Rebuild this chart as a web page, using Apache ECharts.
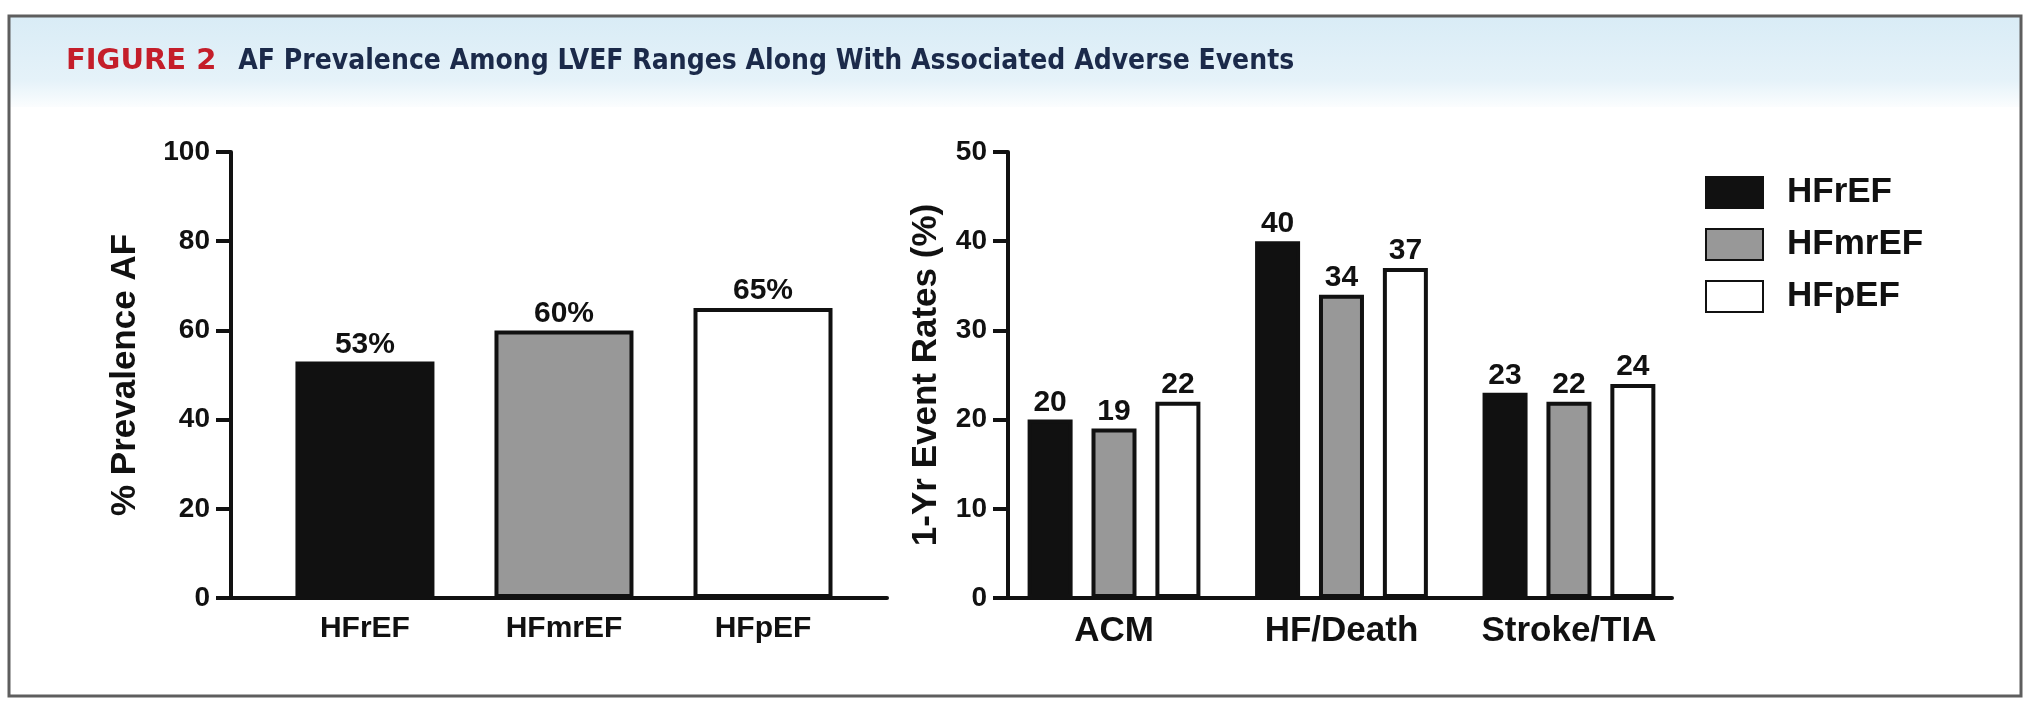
<!DOCTYPE html>
<html>
<head>
<meta charset="utf-8">
<script src="https://cdn.jsdelivr.net/npm/echarts@6/dist/echarts.min.js"></script>
<style>
  html, body { margin: 0; padding: 0; background: #ffffff; }
  #chart { width: 2029px; height: 714px; }
</style>
</head>
<body>
<div id="chart"></div>
<script>
// AF prevalence by LVEF range (left panel)
const prevalenceCategories = ['HFrEF', 'HFmrEF', 'HFpEF'];
const prevalenceValues = [53, 60, 65];

// 1-year event rates by outcome (right panel)
const eventCategories = ['ACM', 'HF/Death', 'Stroke/TIA'];
const groupNames = ['HFrEF', 'HFmrEF', 'HFpEF'];
const hfrefRates = [20, 40, 23];
const hfmrefRates = [19, 34, 22];
const hfpefRates = [22, 37, 24];

const fills = ['#111111', '#989898', '#ffffff'];
const ink = '#111111';
const sans = '"Liberation Sans", Arial, sans-serif';
const titleFont = '"DejaVu Sans Condensed", "DejaVu Sans", sans-serif';

const chart = echarts.init(document.getElementById('chart'), null, { renderer: 'canvas' });

function yAxisCfg(grid, max, step, name, gap) {
  return {
    gridIndex: grid, type: 'value', min: 0, max: max, interval: step,
    name: name, nameLocation: 'middle', nameGap: gap,
    nameTextStyle: { fontFamily: sans, fontSize: 35, fontWeight: 'bold', color: ink },
    axisLine: { show: true, onZero: false, lineStyle: { color: ink, width: 4 } },
    axisTick: { show: true, length: 15, lineStyle: { color: ink, width: 4 } },
    axisLabel: { fontFamily: sans, fontSize: 28, fontWeight: 'bold', color: ink, margin: 21 },
    splitLine: { show: false }
  };
}

function xAxisCfg(grid, min, max, names, size) {
  return {
    gridIndex: grid, type: 'value', min: min, max: max,
    axisLine: { show: true, onZero: false, lineStyle: { color: ink, width: 4 } },
    axisTick: { show: false },
    splitLine: { show: false },
    axisLabel: {
      customValues: [0, 1, 2],
      formatter: v => names[Math.round(v)] || '',
      fontFamily: sans, fontSize: size, fontWeight: 'bold', color: ink, margin: 16
    }
  };
}

const eventSeries = [hfrefRates, hfmrefRates, hfpefRates].map((rates, k) => ({
  name: groupNames[k],
  type: 'bar',
  xAxisIndex: 1, yAxisIndex: 1,
  barWidth: 45,
  barGap: '42%',
  data: rates.map((v, i) => [i, v]),
  itemStyle: { color: fills[k], borderColor: ink, borderWidth: 4 },
  label: {
    show: true, position: 'top', distance: 2,
    formatter: p => p.value[1],
    fontFamily: sans, fontSize: 30, fontWeight: 'bold', color: ink
  }
}));

const option = {
  animation: false,
  backgroundColor: '#ffffff',
  title: {
    text: '{fig|FIGURE 2}{gap|}{main|AF Prevalence Among LVEF Ranges Along With Associated Adverse Events}',
    left: 61, top: 42,
    textStyle: {
      rich: {
        fig: { fontFamily: '"DejaVu Sans", sans-serif', fontSize: 29, fontWeight: 'bold', color: '#c41e2a' },
        gap: { width: 22 },
        main: { fontFamily: titleFont, fontSize: 28, fontWeight: 'bold', color: '#1b2a4a' }
      }
    }
  },
  graphic: [
    {
      type: 'rect', z: -10,
      shape: { x: 10, y: 17, width: 2010, height: 90 },
      style: {
        fill: new echarts.graphic.LinearGradient(0, 0, 0, 1, [
          { offset: 0, color: '#d9ecf6' },
          { offset: 0.7, color: '#e5f2f9' },
          { offset: 1, color: '#fbfdfe' }
        ])
      }
    },
    {
      type: 'rect', z: 100,
      shape: { x: 9, y: 16, width: 2012, height: 680 },
      style: { fill: 'none', stroke: '#5e5e5e', lineWidth: 3 }
    }
  ],
  legend: {
    orient: 'vertical', left: 1700, top: 170,
    itemWidth: 57, itemHeight: 31, itemGap: 17,
    icon: 'rect',
    data: groupNames,
    textStyle: { fontFamily: sans, fontSize: 35, fontWeight: 'bold', color: ink, padding: [0, 0, 0, 19] }
  },
  grid: [
    { left: 231, top: 152, width: 656, height: 446 },
    { left: 1008, top: 152, width: 664, height: 446 }
  ],
  xAxis: [
    xAxisCfg(0, -0.673, 2.623, prevalenceCategories, 30),
    xAxisCfg(1, -0.466, 2.453, eventCategories, 35)
  ],
  yAxis: [
    yAxisCfg(0, 100, 20, '% Prevalence AF', 88),
    yAxisCfg(1, 50, 10, '1-Yr Event Rates (%)', 64)
  ],
  series: [
    {
      name: 'AF prevalence',
      type: 'bar',
      xAxisIndex: 0, yAxisIndex: 0,
      barWidth: 139,
      data: prevalenceValues.map((v, i) => ({
        value: [i, v],
        itemStyle: { color: fills[i], borderColor: ink, borderWidth: 4 }
      })),
      label: {
        show: true, position: 'top', distance: 2,
        formatter: p => p.value[1] + '%',
        fontFamily: sans, fontSize: 30, fontWeight: 'bold', color: ink
      }
    }
  ].concat(eventSeries)
};

chart.setOption(option);
</script>
</body>
</html>
